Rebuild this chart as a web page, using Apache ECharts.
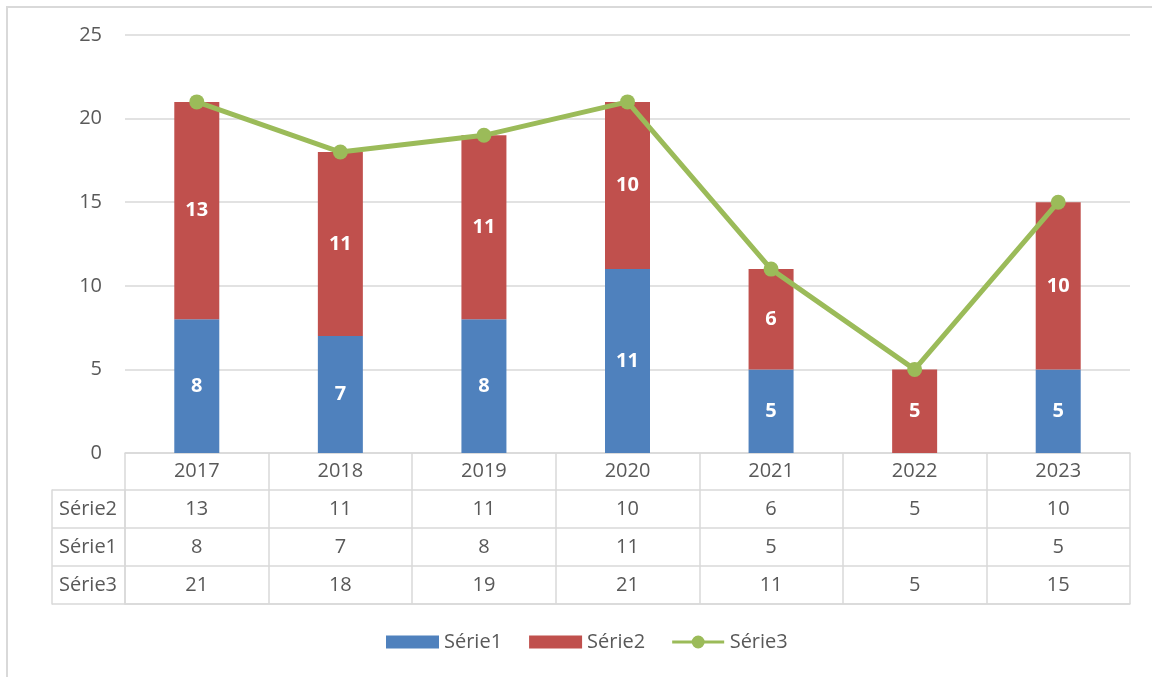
<!DOCTYPE html>
<html>
<head>
<meta charset="utf-8">
<script src="https://cdn.jsdelivr.net/npm/echarts@6/dist/echarts.min.js"></script>
<style>
html,body{margin:0;padding:0;background:#fff;}
#chart{position:absolute;left:0;top:0;width:1152px;height:677px;}
#frame{position:absolute;left:6px;top:6px;width:1200px;height:700px;border-left:2px solid #d9d9d9;border-top:2px solid #d9d9d9;pointer-events:none;}
</style>
</head>
<body>
<div id="chart"></div>
<div id="frame"></div>
<script>
const years = ['2017', '2018', '2019', '2020', '2021', '2022', '2023'];
const serie1 = [8, 7, 8, 11, 5, null, 5];
const serie2 = [13, 11, 11, 10, 6, 5, 10];
const serie3 = [21, 18, 19, 21, 11, 5, 15];
const tableRows = ['Série2', 'Série1', 'Série3'];
const yMin = 0, yMax = 25, yStep = 5;

const FONT = 'Open Sans';
const TXT = '#595959';
const GRID = '#d9d9d9';
const BLUE = '#4F81BD', RED = '#C0504D', GREEN = '#9BBB59';

const rowValues = { 'Série1': serie1, 'Série2': serie2, 'Série3': serie3 };

const tableSeries = tableRows.map(function (row) {
  const vals = rowValues[row];
  const data = [];
  years.forEach(function (y, i) {
    if (vals[i] !== null && vals[i] !== undefined) data.push([y, row, vals[i]]);
  });
  return {
    name: 'table-' + row,
    type: 'scatter',
    xAxisIndex: 1,
    yAxisIndex: 1,
    silent: true,
    symbolSize: 1,
    itemStyle: { color: 'rgba(0,0,0,0)', opacity: 1 },
    label: {
      show: true,
      position: 'inside',
      formatter: function (p) { return String(p.value[2]); },
      color: TXT,
      fontFamily: FONT,
      fontSize: 20
    },
    data: data
  };
});

const barLabel = {
  show: true,
  position: 'inside',
  color: '#fff',
  fontFamily: FONT,
  fontWeight: 'bold',
  fontSize: 20
};

const lineIcon = 'path://M0,5.5 L56,5.5 L56,8.5 L0,8.5 Z M28,0 A7,7 0 1,1 28,14 A7,7 0 1,1 28,0 Z';

const chart = echarts.init(document.getElementById('chart'), null, { renderer: 'canvas' });
chart.setOption({
  animation: false,
  textStyle: { fontFamily: FONT },
  legend: {
    data: [
      { name: 'Série1', icon: 'rect' },
      { name: 'Série2', icon: 'rect' },
      { name: 'Série3', icon: lineIcon, itemStyle: { color: GREEN } }
    ],
    left: 381,
    top: 627,
    itemWidth: 53,
    itemHeight: 13,
    itemGap: 27,
    textStyle: { color: TXT, fontFamily: FONT, fontSize: 20 }
  },
  grid: [
    { left: 125, right: 22, top: 35, height: 418 },
    { left: 125, right: 22, top: 490, height: 114 }
  ],
  xAxis: [
    {
      type: 'category',
      gridIndex: 0,
      data: years,
      axisLine: { lineStyle: { color: GRID, width: 1.5 } },
      axisTick: { show: true, length: 37, interval: 0, lineStyle: { color: GRID, width: 1.5 } },
      axisLabel: { color: TXT, fontFamily: FONT, fontSize: 20, margin: 8 },
      splitLine: { show: false }
    },
    {
      type: 'category',
      gridIndex: 1,
      data: years,
      position: 'bottom',
      axisLine: { show: true, lineStyle: { color: GRID, width: 1.5 } },
      axisTick: { show: false },
      axisLabel: { show: false },
      splitLine: { show: true, interval: 0, lineStyle: { color: GRID, width: 1.5 } }
    }
  ],
  yAxis: [
    {
      type: 'value',
      gridIndex: 0,
      min: yMin,
      max: yMax,
      interval: yStep,
      axisLine: { show: false },
      axisTick: { show: false },
      axisLabel: { color: TXT, fontFamily: FONT, fontSize: 20, margin: 23 },
      splitLine: { lineStyle: { color: GRID, width: 1.5 } }
    },
    {
      type: 'category',
      gridIndex: 1,
      data: tableRows,
      inverse: true,
      position: 'left',
      axisLine: { show: true, lineStyle: { color: GRID, width: 1.5 } },
      axisTick: { show: true, length: 73, interval: 0, lineStyle: { color: GRID, width: 1.5 } },
      axisLabel: { color: TXT, fontFamily: FONT, fontSize: 20, align: 'center', margin: 37 },
      splitLine: { show: true, interval: 0, lineStyle: { color: GRID, width: 1.5 } }
    },
    {
      type: 'category',
      gridIndex: 1,
      data: tableRows,
      inverse: true,
      position: 'left',
      offset: 73,
      axisLine: { show: true, lineStyle: { color: GRID, width: 1.5 } },
      axisTick: { show: false },
      axisLabel: { show: false },
      splitLine: { show: false }
    }
  ],
  series: [
    {
      name: 'Série1',
      type: 'bar',
      stack: 'total',
      barWidth: 45,
      xAxisIndex: 0,
      yAxisIndex: 0,
      itemStyle: { color: BLUE },
      label: barLabel,
      data: serie1
    },
    {
      name: 'Série2',
      type: 'bar',
      stack: 'total',
      barWidth: 45,
      xAxisIndex: 0,
      yAxisIndex: 0,
      itemStyle: { color: RED },
      label: barLabel,
      data: serie2
    },
    {
      name: 'Série3',
      type: 'line',
      xAxisIndex: 0,
      yAxisIndex: 0,
      symbol: 'circle',
      symbolSize: 15,
      lineStyle: { color: GREEN, width: 5 },
      itemStyle: { color: GREEN },
      data: serie3
    }
  ].concat(tableSeries)
});
</script>
</body>
</html>
